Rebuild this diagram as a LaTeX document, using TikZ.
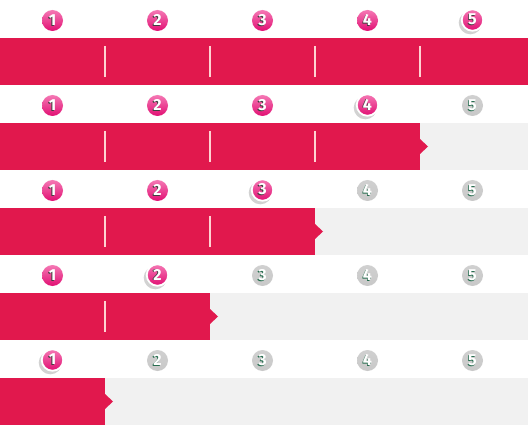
\documentclass[tikz,border=0pt]{standalone}
\usepackage{fontspec}
\setmainfont{Fira Sans}
\usetikzlibrary{shadows}
\definecolor{barred}{RGB}{225,24,77}
\definecolor{restgray}{RGB}{241,241,241}
\definecolor{ballgray}{RGB}{200,200,200}
\definecolor{balltop}{RGB}{245,120,180}
\definecolor{ballbottom}{RGB}{225,15,115}
\definecolor{digitteal}{RGB}{40,110,80}
\newcommand{\shdigit}[2]{\makebox[0pt][l]{\kern-0.9pt\raisebox{-0.9pt}{\color{#1}#2}}#2}

\begin{document}
\begin{tikzpicture}[x=1pt,y=-1pt,
done/.style={circle,minimum size=21pt,inner sep=0pt,text=white,
font=\fontsize{16}{16}\bfseries,top color=balltop,bottom color=ballbottom},
current/.style={done,minimum size=21.5pt,draw=white,line width=1.8pt,
drop shadow={opacity=0.35,shadow xshift=-2pt,shadow yshift=-2.5pt,shadow scale=1.08}},
todo/.style={done,top color=ballgray!85,bottom color=ballgray},
sep/.style={draw=pink!70!white,line width=1.2pt}]
\useasboundingbox[fill=white] (0,0) rectangle (528,425);
\foreach \r in {1,...,5}{
  \pgfmathtruncatemacro{\act}{6-\r}
  \pgfmathsetmacro{\top}{38+85*(\r-1)}
  \pgfmathsetmacro{\xend}{\act==5 ? 528 : 105*\act}
  \fill[restgray] (\xend,\top) rectangle (528,\top+47);
  \fill[barred] (0,\top) rectangle (\xend,\top+47);
  \fill[barred] (\xend,\top+16) -- (\xend+8,\top+23.5) -- (\xend,\top+31) -- cycle;
  \foreach \k in {1,...,5}{
    \ifnum\k<\act
      \draw[sep] (105*\k,\top+8) -- (105*\k,\top+39);
      \node[done] (c-\r-\k) at (105*\k-52.5,\top-17.5) {\shdigit{black!75}{\k}};
    \else\ifnum\k=\act
      \node[current] (c-\r-\k) at (105*\k-52.5,\top-18) {\shdigit{black!75}{\k}};
    \else
      \node[todo] (c-\r-\k) at (105*\k-52.5,\top-17.5) {\shdigit{digitteal}{\k}};
    \fi\fi
  }
}
\end{tikzpicture}
\end{document}
